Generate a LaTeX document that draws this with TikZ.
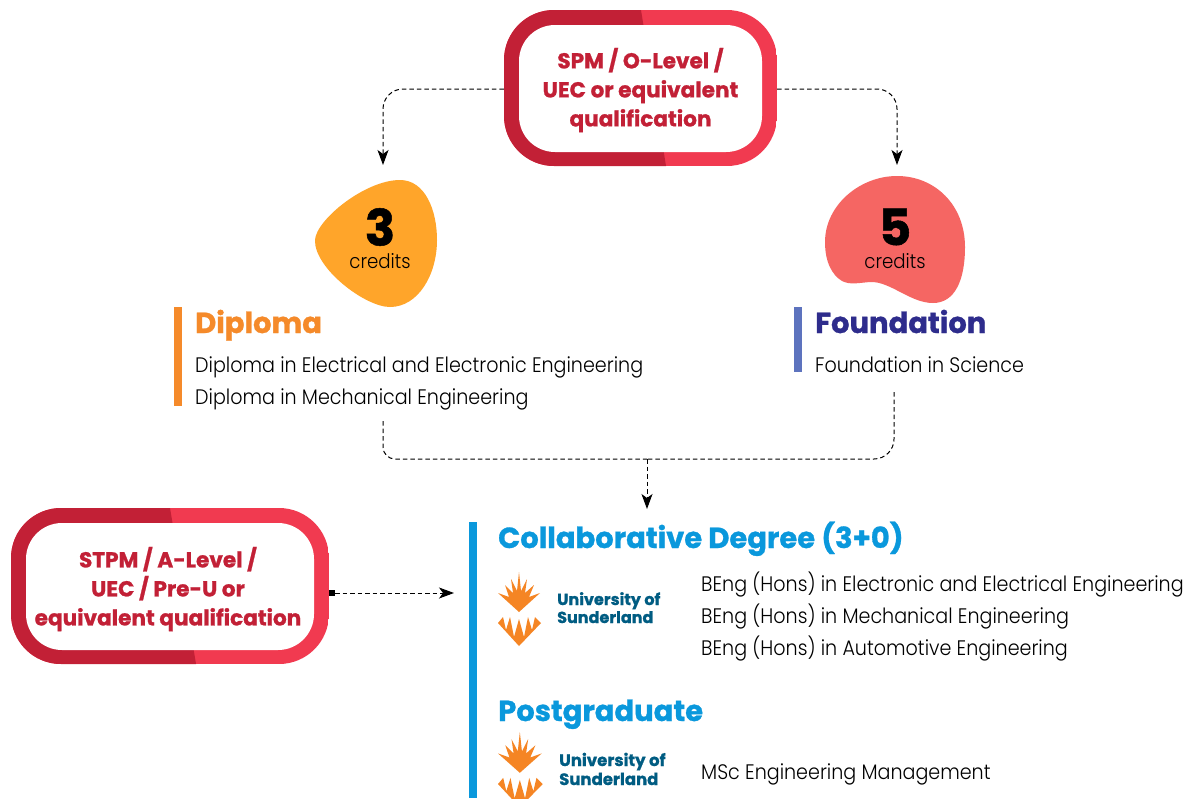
\documentclass[tikz,border=0pt]{standalone}
\usepackage{fontspec}
\setmainfont{Poppins}
\newfontfamily\bodyf[FakeStretch=0.91]{Poppins Light}
\newfontfamily\headf[FakeStretch=1.0,FakeBold=1.0]{Poppins Bold}
\usetikzlibrary{arrows.meta}
\definecolor{ringdark}{HTML}{C22036}
\definecolor{ringlight}{HTML}{F13A50}
\definecolor{blobor}{HTML}{FFA52A}
\definecolor{blobred}{HTML}{F56663}
\definecolor{orbar}{HTML}{F58A2A}
\definecolor{bluebar}{HTML}{5D73BE}
\definecolor{navy}{HTML}{2E2C8C}
\definecolor{skyb}{HTML}{0A98DC}
\definecolor{logot}{HTML}{005C82}
\definecolor{logoo}{HTML}{F58524}
\tikzset{x=1pt,y=-1pt,
 link/.style={draw=black,line width=1pt,dash pattern=on 4.5pt off 3pt,rounded corners=20pt},
 tipped/.style={link,-{Stealth[length=15pt,width=11pt,inset=4pt]}},
 lbl/.style={inner sep=0pt,anchor=base west,font=\bodyf\fontsize{21}{21}\selectfont},
 boxt/.style={inner sep=0pt,align=center,text=ringdark,font=\headf\fontsize{21.6}{29}\selectfont},
 headt/.style={inner sep=0pt,anchor=base west,font=\headf\fontsize{29}{29}\selectfont},
 numt/.style={inner sep=0pt,font=\headf\fontsize{50}{50}\selectfont},
 credt/.style={inner sep=0pt,font=\bodyf\fontsize{20}{20}\selectfont},
 logotext/.style={inner sep=0pt,anchor=base west,text=logot,font=\headf\fontsize{16}{16}\selectfont},
 logotextb/.style={logotext,font=\headf\fontsize{16.5}{16.5}\selectfont},
}
\newcommand{\logomark}{%
 \fill[logoo] (498,593) -- (509,597) -- (505,585) -- (513,593) -- (511,579) -- (517,591) -- (519,572) -- (521,591) -- (527,579) -- (525,593) -- (534,585) -- (529,597) -- (540,593) -- (519,612) -- cycle;
 \fill[logoo] (498,623) -- (503,617) -- (506,630) -- (510,617) -- (514,637) -- (519,619) -- (524,637) -- (528,617) -- (532,630) -- (535,617) -- (541,623) -- (519,646) -- cycle;
}
\begin{document}
\begin{tikzpicture}
\useasboundingbox (0,0) rectangle (1191,798);
\fill[white] (0,0) rectangle (1191,798);
% top ring
\begin{scope}
 \clip[rounded corners=50pt] (504,10) rectangle (777,166);
 \fill[ringlight] (504,10) rectangle (777,166);
 \fill[ringdark] (504,10) -- (641,10) -- (666,166) -- (504,166) -- cycle;
\end{scope}
\node (spmbox) [inner sep=0pt,minimum width=273pt,minimum height=156pt] at (640.5,88) {};
\fill[white,rounded corners=36pt] (519,25) rectangle (762,152);
\node (spm) [boxt] at (640.5,90) {SPM / O-Level /\\UEC or equivalent\\qualification};
% second ring
\begin{scope}
 \clip[rounded corners=50pt] (11,508) rectangle (329,664);
 \fill[ringlight] (11,508) rectangle (329,664);
 \fill[ringdark] (11,508) -- (170,508) -- (196,664) -- (11,664) -- cycle;
\end{scope}
\fill[white,rounded corners=36pt] (26,523) rectangle (314,650);
\node (stpmbox) [inner sep=0pt,minimum width=318pt,minimum height=156pt] at (170,586) {};
\node (stpm) [boxt] at (168,589) {STPM / A-Level /\\UEC / Pre-U or\\equivalent qualification};
% blobs
\fill[blobor] (315,240) .. controls (316,220) and (365,180) .. (400,180)
 .. controls (425,180) and (437,210) .. (437,240)
 .. controls (437,275) and (418,307) .. (390,307)
 .. controls (365,307) and (314,268) .. (315,240) -- cycle;
\fill[blobred] (825,242) .. controls (825,205) and (860,176) .. (897,176)
 .. controls (935,176) and (965,205) .. (965,247)
 .. controls (965,280) and (955,303) .. (933,303)
 .. controls (910,303) and (890,281) .. (870,282)
 .. controls (858,283) and (850,285) .. (842,281)
 .. controls (832,275) and (825,262) .. (825,242) -- cycle;
\node (n3) [numt] at (380,227) {3};
\node (c3) [credt] at (380,261) {credits};
\node (n5) [numt] at (895,227) {5};
\node (c5) [credt] at (895,261) {credits};
% diploma
\fill[orbar] (174,307) rectangle (182,406);
\node (dip) [headt,text=orbar] at (195,333) {Diploma};
\node (d1) [lbl] at (195,372) {Diploma in Electrical and Electronic Engineering};
\node (d2) [lbl] at (195,404) {Diploma in Mechanical Engineering};
% foundation
\fill[bluebar] (794,307) rectangle (802,372);
\node (fou) [headt,text=navy] at (815,333) {Foundation};
\node (f1) [lbl] at (815,372) {Foundation in Science};
% collaborative
\fill[skyb] (469,522) rectangle (477,798);
\node (col) [headt,text=skyb] at (498,548) {Collaborative Degree (3+0)};
\begin{scope}\logomark\end{scope}
\node (l1) [logotext] at (557,605) {University of};
\node (l2) [logotext] at (557,623) {Sunderland};
\node (b1) [lbl] at (701,591) {BEng (Hons) in Electronic and Electrical Engineering};
\node (b2) [lbl] at (701,623) {BEng (Hons) in Mechanical Engineering};
\node (b3) [lbl] at (701,655) {BEng (Hons) in Automotive Engineering};
\node (pg) [headt,text=skyb] at (498,721) {Postgraduate};
\begin{scope}
 \clip (490,725) rectangle (560,798);
 \begin{scope}[shift={(498,732)},xscale=1.04,yscale=1.02,shift={(-498,-572)}]\logomark\end{scope}
\end{scope}
\node (l3) [logotextb] at (559,766) {University of};
\node (l4) [logotextb] at (559,785) {Sunderland};
\node (m1) [lbl] at (701,779) {MSc Engineering Management};
% connectors
\coordinate (jr) at (647,459);
\coordinate (ct) at (647,509);
\coordinate (cl) at (454,593);
\coordinate (dtop) at (383,165);
\coordinate (ftop) at (897,165);
\draw[tipped] (spmbox.west |- 0,89) -| (dtop);
\draw[tipped] (spmbox.east |- 0,89) -| (ftop);
\draw[link,rounded corners=12pt] (383,421) |- (jr);
\draw[link] (894,392) |- (jr);
\draw[tipped,rounded corners=0pt] (jr) -- (ct);
\fill (329,590) rectangle (335,596);
\draw[tipped,rounded corners=0pt] (stpmbox.east |- 0,593) ++(6,0) -- (cl);
\end{tikzpicture}
\end{document}
